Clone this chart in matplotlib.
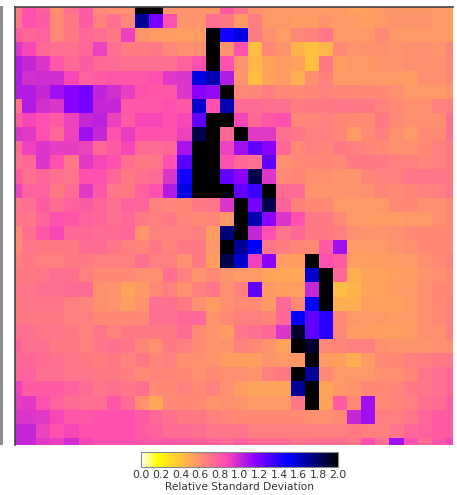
"""Relative standard deviation map with a horizontal colorbar."""
import numpy as np
import matplotlib
matplotlib.use("Agg")
import matplotlib.pyplot as plt
from matplotlib.patches import Rectangle

W, H = 457, 495

# values, one row per line, top row first
rsd_rows = [
    [.68,.85,.78,.60,.72,.80,.62,.60,.60,2.0,2.0,.58,.58,.58,.57,.82,.72,.58,.57,.57,.57,.57,.56,.56,.53,.53,.57,.57,.57,.57,.57,.55],
    [.70,.85,.80,.62,.68,.80,.65,.72,.63,1.7,1.2,.85,.58,.58,.72,.68,.56,.67,.57,.57,.55,.55,.58,.56,.56,.54,.56,.58,.58,.58,.57,.54],
    [.80,.75,.78,.63,.68,.75,.72,.68,.90,.58,.55,.55,.54,.55,2.0,1.45,1.55,.67,.60,.55,.63,.65,.70,.57,.57,.57,.62,.57,.56,.57,.56,.54],
    [.95,.88,.75,.72,.72,.76,.90,.72,.67,.67,.68,.63,.60,.60,2.0,.58,.85,.42,.63,.58,.46,.41,.45,.62,.58,.59,.60,.58,.60,.60,.58,.64],
    [1.05,1.0,.95,.82,.75,.80,.75,.74,.72,.72,.72,.72,.78,.85,2.0,.85,.58,.45,.52,.55,.53,.40,.68,.54,.57,.57,.58,.58,.60,.60,.60,.63],
    [1.05,.97,.98,.98,.88,.78,.80,.82,.82,.82,.85,.93,.95,1.55,1.65,1.05,.58,.42,.52,.55,.47,.60,.65,.56,.56,.57,.56,.56,.55,.60,.60,.62],
    [1.05,1.05,1.0,1.1,1.15,1.2,1.02,.97,.92,.83,.82,.82,.95,1.15,1.12,2.0,.63,.63,.66,.62,.62,.64,.65,.63,.63,.62,.62,.60,.56,.56,.56,.58],
    [.72,1.05,.97,.95,1.15,1.2,1.0,1.0,.82,.82,.82,.85,.82,1.6,.85,1.65,.74,.74,.72,.72,.67,.68,.68,.70,.69,.68,.65,.62,.60,.60,.65,.66],
    [.80,.88,.85,.80,.90,1.0,1.03,.90,.80,.88,.88,.85,.88,1.25,2.0,2.0,.88,.75,.82,.85,.63,.64,.65,.63,.62,.61,.68,.62,.60,.60,.60,.72],
    [.95,.93,.85,.75,.90,1.1,1.0,.83,.92,.85,.85,.83,.90,1.85,2.0,.75,2.0,.93,.93,.72,.70,.66,.66,.64,.55,.62,.66,.60,.56,.62,.62,.72],
    [.75,.90,.95,.92,.92,.90,.75,.80,.88,.74,.74,.75,1.08,2.0,2.0,.90,1.1,1.25,1.15,.75,.62,.66,.64,.68,.66,.64,.62,.60,.60,.62,.66,.68],
    [.72,.75,.95,.85,.68,.93,.88,.85,.72,.68,.70,.85,1.27,2.0,2.0,.85,.75,.72,1.25,.60,.62,.64,.64,.62,.68,.68,.68,.66,.66,.64,.66,.68],
    [.80,.72,.76,.72,.70,.85,.85,.76,.68,.72,.74,.95,1.45,2.0,2.0,1.25,1.15,1.85,.95,.62,.64,.60,.60,.58,.58,.64,.65,.66,.70,.70,.70,.68],
    [.90,.78,.78,.68,.74,.93,.82,.70,.68,.78,.85,1.05,1.55,2.0,2.0,2.0,1.25,1.35,2.0,.74,.74,.58,.58,.58,.58,.60,.64,.62,.64,.66,.66,.70],
    [.70,.72,.80,.74,.78,.80,.76,.72,.78,.76,.65,.64,.64,.68,.70,.95,2.0,1.2,1.85,.78,.65,.62,.62,.57,.56,.56,.57,.62,.62,.60,.60,.62],
    [.70,.70,.76,.85,.82,.78,.76,.72,.75,.68,.66,.68,.64,.62,.64,.57,2.0,1.65,1.15,.95,.85,.68,.68,.62,.56,.56,.55,.55,.57,.57,.60,.62],
    [.62,.72,.82,.88,.75,.75,.74,.74,.76,.58,.65,.65,.65,.66,.55,1.75,2.0,1.0,.85,.70,.75,.68,.68,.66,.60,.58,.58,.60,.62,.62,.62,.62],
    [.62,.70,.68,.68,.68,.74,.74,.70,.66,.64,.68,.64,.68,.68,.57,2.0,1.7,1.5,.70,.67,.64,.62,.80,1.1,.56,.56,.57,.58,.60,.62,.62,.62],
    [.66,.68,.66,.66,.68,.68,.66,.66,.66,.72,.66,.66,.60,.68,.54,1.85,1.6,.90,1.15,.55,.54,2.0,.85,.80,.54,.54,.55,.56,.56,.60,.62,.65],
    [.68,.68,.70,.72,.72,.66,.62,.62,.62,.60,.60,.72,.65,.58,.62,.58,.56,.56,.52,.50,.50,1.6,2.0,.75,.48,.52,.53,.54,.55,.58,.60,.62],
    [.70,.70,.72,.72,.74,.74,.60,.58,.52,.56,.62,.66,.60,.66,.70,.60,.66,1.25,.57,.54,.54,1.0,2.0,.42,.46,.52,.53,.55,.56,.60,.62,.63],
    [.68,.70,.70,.70,.66,.64,.60,.58,.54,.58,.72,.72,.68,.60,.55,.60,.62,.62,.56,.75,.62,1.5,2.0,.47,.48,.54,.53,.53,.56,.60,.62,.65],
    [.68,.68,.68,.68,.66,.66,.62,.62,.62,.62,.72,.72,.75,.75,.58,.62,.66,.66,.64,.75,1.5,1.25,1.4,.62,.57,.56,.57,.55,.56,.60,.62,.65],
    [.72,.72,.70,.70,.68,.65,.70,.65,.68,.68,.68,.68,.74,.62,.58,.55,.70,.72,.75,.95,1.9,1.25,1.4,.63,.55,.55,.54,.54,.56,.60,.60,.66],
    [.78,.72,.72,.68,.68,.66,.70,.72,.70,.64,.60,.68,.66,.62,.58,.58,.65,.62,.58,.53,2.0,1.9,.62,.64,.66,.66,.60,.58,.58,.58,.60,.60],
    [.75,.76,.74,.72,.70,.68,.66,.68,.65,.68,.64,.65,.60,.60,.58,.55,.54,.54,.58,.57,.57,2.0,.55,.53,.48,.55,.62,.62,.66,.66,.68,.70],
    [.76,.78,.72,.72,.70,.70,.68,.68,.66,.62,.64,.64,.62,.60,.62,.60,.60,.58,.66,.68,2.0,1.7,.62,.57,.57,.57,.60,.60,.64,.70,.72,.75],
    [.90,.80,.80,.80,.78,.74,.70,.72,.70,.72,.62,.62,.65,.62,.65,.60,.55,.52,.52,.52,1.7,2.0,.52,.57,.58,.62,.62,.64,.68,.70,.72,.75],
    [.92,.93,.85,.78,.74,.72,.72,.82,.74,.60,.50,.62,.62,.62,.58,.60,.58,.56,.56,.56,.70,2.0,.52,.80,.62,1.1,.62,.64,.66,.72,.74,.80],
    [.95,.95,.93,.88,.82,.82,.84,.85,.85,.80,.75,.72,.68,.68,.66,.64,.62,.62,.62,.62,.62,.60,.60,.62,1.0,1.1,.66,.66,.70,.76,.80,.80],
    [1.0,1.0,.90,.85,.88,.85,.85,.85,.85,.80,.78,.74,.74,.72,.70,.70,.70,.66,.66,.66,.66,.66,.66,.66,.68,.66,.66,.70,.75,.78,.80,.80],
    [1.0,1.0,.93,.92,.98,.88,.85,.85,.85,.82,.80,.82,.80,.78,.76,.74,.78,.74,.74,.74,.70,.72,.72,.72,.70,.85,.72,1.1,.85,.74,.82,.88],
]
cbar_ticks = [0.0, 0.2, 0.4, 0.6, 0.8, 1.0, 1.2, 1.4, 1.6, 1.8, 2.0]
cbar_label = "Relative Standard Deviation"


def px_axes(fig, left, top, right, bottom):
    return fig.add_axes([left / W, 1 - bottom / H, (right - left) / W, (bottom - top) / H])


fig = plt.figure(figsize=(W / 100, H / 100), dpi=100)

# grey sliver along the left edge of the reference
fig.add_artist(Rectangle((0, 1 - 445 / H), 3 / W, (445 - 6) / H, transform=fig.transFigure,
                         color="#8c8c8c", lw=0))

ax = px_axes(fig, 15, 7, 453, 445)
im = ax.imshow(np.array(rsd_rows), cmap="gnuplot2_r", vmin=0, vmax=2,
               interpolation="nearest", aspect="auto")
ax.set_xlim(0, 31)
ax.set_ylim(31, 0)
ax.set_xticks([])
ax.set_yticks([])
for side in ["right", "bottom"]:
    ax.spines[side].set_visible(False)
for side in ["left", "top"]:
    ax.spines[side].set_color("#444444")
    ax.spines[side].set_linewidth(1.2)

cax = px_axes(fig, 141, 452, 338, 467)
cbar = fig.colorbar(im, cax=cax, orientation="horizontal", ticks=cbar_ticks)
cbar.ax.tick_params(length=0, pad=2.5, labelsize=7.8, labelcolor="#333333")
cbar.outline.set_edgecolor("#888888")
cbar.outline.set_linewidth(0.8)
cbar.set_label(cbar_label, fontsize=7.6, color="#333333", labelpad=1)

fig.savefig("out.png", dpi=100)
